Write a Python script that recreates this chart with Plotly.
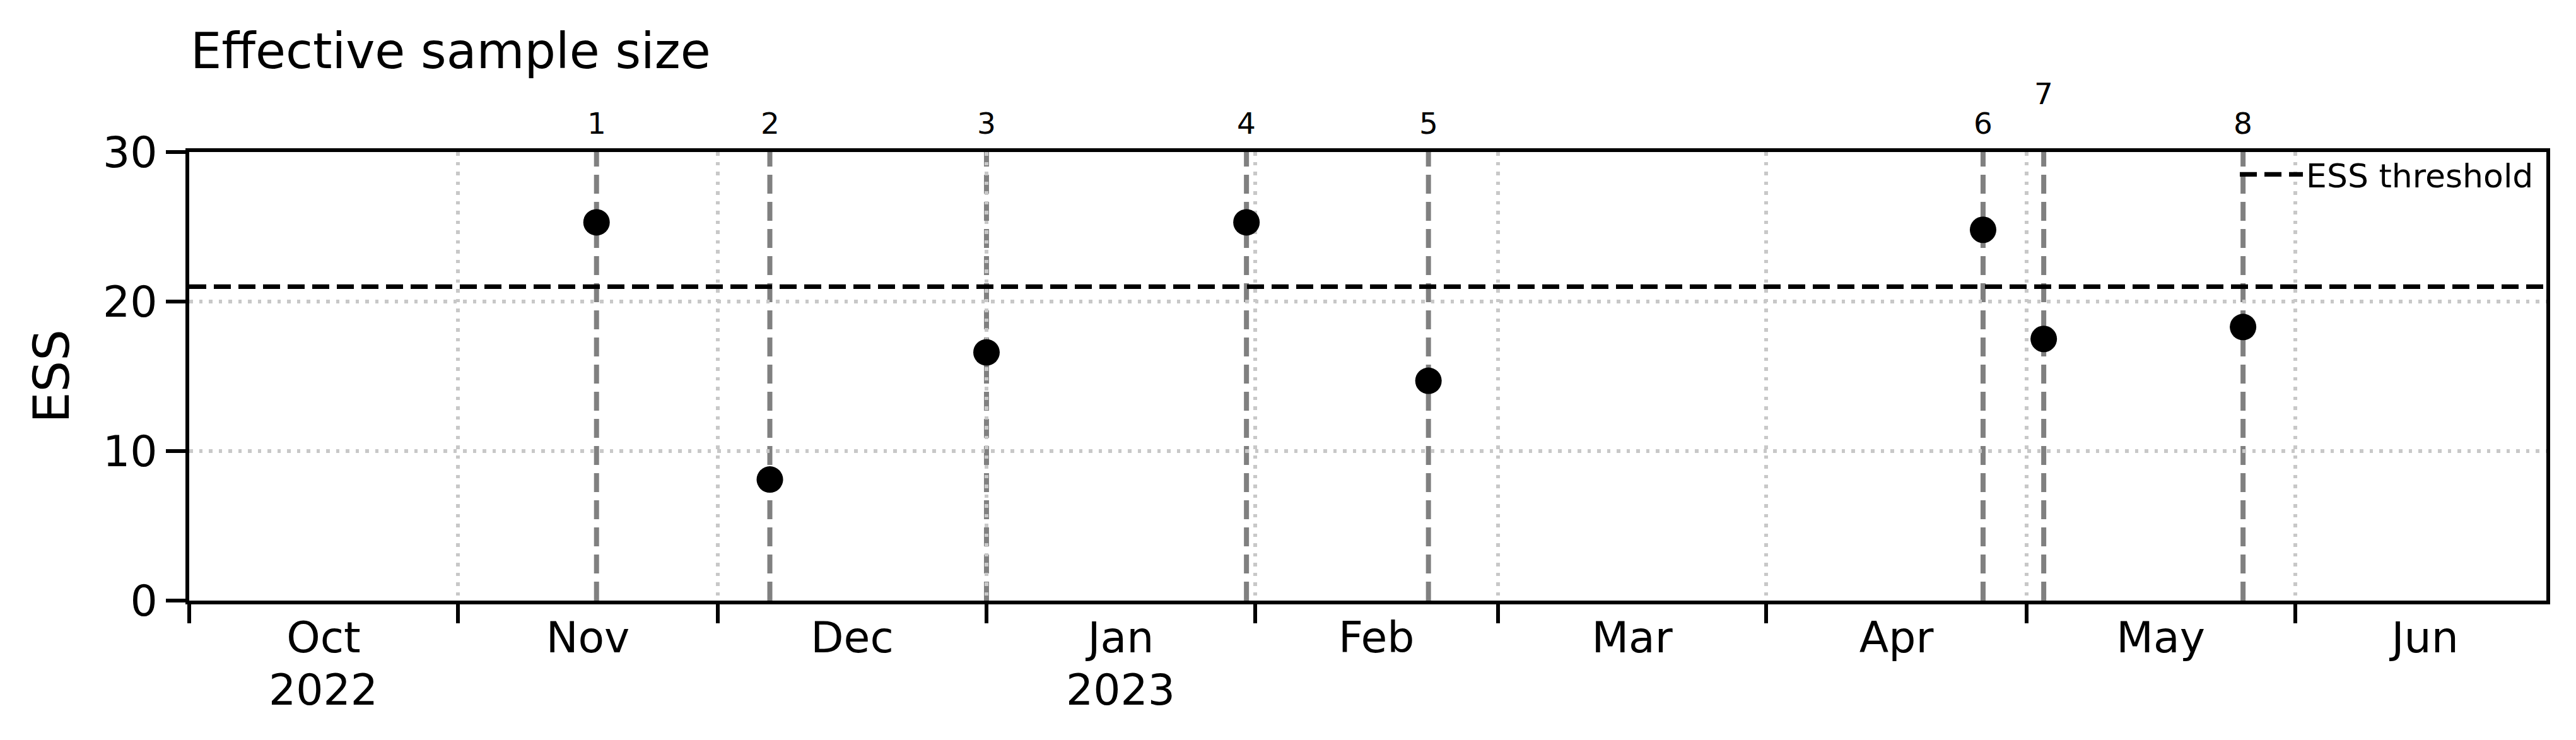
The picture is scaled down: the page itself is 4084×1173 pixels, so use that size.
import pandas as pd
import plotly.graph_objects as go

# events (numbered vertical markers) and the ESS estimated at each
EVENT_DATES = ["2022-11-17", "2022-12-07", "2023-01-01", "2023-01-31",
               "2023-02-21", "2023-04-26", "2023-05-03", "2023-05-26"]
EVENT_IDS = [1, 2, 3, 4, 5, 6, 7, 8]
ESS_VALUES = [25.3, 8.1, 16.6, 25.3, 14.7, 24.8, 17.5, 18.3]
ESS_THRESHOLD = 21.0

# x axis: month boundaries, the month names centred in each month,
# and the year written under the first month of each year
MONTH_STARTS = ["2022-10-01", "2022-11-01", "2022-12-01", "2023-01-01", "2023-02-01",
                "2023-03-01", "2023-04-01", "2023-05-01", "2023-06-01", "2023-07-01"]
MONTH_LABELS = ["Oct", "Nov", "Dec", "Jan", "Feb", "Mar", "Apr", "May", "Jun"]
YEAR_LABELS = {0: "2022", 3: "2023"}
Y_TICKS = [0, 10, 20, 30]

FONT = "DejaVu Sans"
GRID = "#c8c8c8"

starts = pd.to_datetime(MONTH_STARTS)
mids = starts[:-1] + (starts[1:] - starts[:-1]) / 2
dates = pd.to_datetime(EVENT_DATES)

fig = go.Figure()

fig.add_trace(go.Scatter(
    x=dates, y=ESS_VALUES, mode="markers",
    marker=dict(size=42, color="black"),
    showlegend=False,
))

for i, (d, n) in enumerate(zip(dates, EVENT_IDS)):
    fig.add_shape(type="line", xref="x", yref="y domain",
                  x0=d, x1=d, y0=0, y1=1, layer="below",
                  line=dict(color="#808080", width=8, dash="30px,13px"))
    # lift the label when it would collide with the previous one
    lifted = i > 0 and (d - dates[i - 1]).days < 14
    fig.add_annotation(x=d, xref="x", y=1, yref="paper", yanchor="bottom",
                       yshift=63 if lifted else 16, text=str(n), showarrow=False,
                       font=dict(size=47, color="black", family=FONT))

for idx, year in YEAR_LABELS.items():
    fig.add_annotation(x=mids[idx], xref="x", y=0, yref="paper", yanchor="top",
                       yshift=-100, text=year, showarrow=False,
                       font=dict(size=68, color="black", family=FONT))

fig.add_hline(y=ESS_THRESHOLD, layer="below", name="ESS threshold", showlegend=True,
              line=dict(color="black", width=7.3, dash="27px,12px"))

fig.add_annotation(text="Effective sample size", x=0, xref="paper", xanchor="left",
                   y=1, yref="paper", yanchor="bottom", yshift=113, showarrow=False,
                   font=dict(size=78, color="black", family=FONT))

# the page body adds 8px all round, so the figure is 16px smaller than the window
fig.update_layout(
    width=4068, height=1157,
    margin=dict(l=292, r=39, t=233, b=213),
    plot_bgcolor="white", paper_bgcolor="white",
    font=dict(family=FONT, color="black"),
    legend=dict(x=0.996, xanchor="right", y=1.007, yanchor="top",
                bgcolor="rgba(0,0,0,0)", font=dict(size=52), itemwidth=100),
    xaxis=dict(
        range=["2022-10-01", "2023-06-30"], automargin=False,
        tickmode="array", tickvals=mids, ticktext=MONTH_LABELS, ticks="",
        tickfont=dict(size=68), ticklabelstandoff=-5, showgrid=False,
        showline=True, linecolor="black", linewidth=5.5, mirror=True,
        minor=dict(tickmode="array", tickvals=starts, ticks="outside", ticklen=30,
                   tickwidth=5.5, tickcolor="black", showgrid=True,
                   gridcolor=GRID, gridwidth=5.5, griddash="5.5px,10px"),
    ),
    yaxis=dict(
        range=[0, 30], automargin=False,
        tickmode="array", tickvals=Y_TICKS, ticks="outside", ticklen=31,
        tickwidth=5.5, tickcolor="black", tickfont=dict(size=68),
        showgrid=True, gridcolor=GRID, gridwidth=5.5, griddash="5.5px,10px",
        zeroline=False, showline=True, linecolor="black", linewidth=5.5, mirror=True,
        title=dict(text="ESS", font=dict(size=78), standoff=30),
    ),
)

fig.write_html("out.html")
